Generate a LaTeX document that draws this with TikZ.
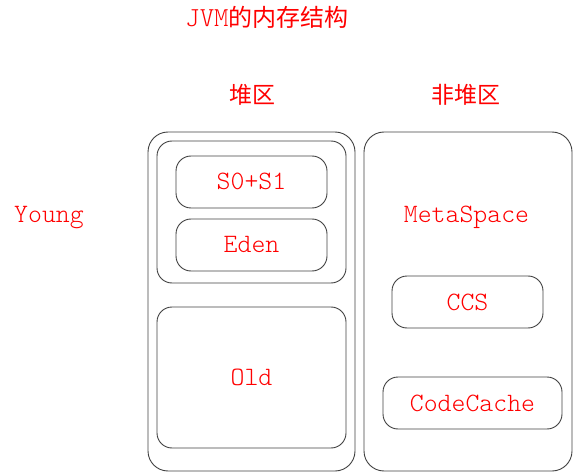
\documentclass[tikz,border=0pt]{standalone}
\usepackage{fontspec}
\setmonofont{Latin Modern Mono Light}
\newfontfamily\cjk{Noto Sans CJK SC}
\newcommand\mytxt{\fontsize{26.5}{30}\selectfont\ttfamily}
\begin{document}
\begin{tikzpicture}[x=1pt,y=-1pt,
  frame/.style={draw=black!75, line width=0.9pt, inner sep=0pt},
  box/.style={frame, rounded corners=15pt, text=red, font=\mytxt, text height=18pt, text depth=2pt},
  bigbox/.style={frame, rounded corners=20pt},
  lbl/.style={text=red, inner sep=0pt, anchor=base, font=\mytxt}]
\useasboundingbox (0,0) rectangle (573,473);
% containers
\node[bigbox, minimum width=207pt, minimum height=339pt] (heap) at (251.5,301.5) {};
\node[bigbox, minimum width=208pt, minimum height=339pt] (nonheap) at (468,301.5) {};
\node[box, minimum width=189pt, minimum height=142pt] (young) at (251.5,212) {};
% inner boxes
\node[box, minimum width=151pt, minimum height=52pt] (s01) at (251.5,182) {S0+S1};
\node[box, minimum width=151pt, minimum height=52pt] (eden) at (251.5,245) {Eden};
\node[box, minimum width=189pt, minimum height=141pt] (old) at (251.5,377.5) {Old};
\node[box, minimum width=151pt, minimum height=52pt] (ccs) at (467.5,302) {CCS};
\node[box, minimum width=179pt, minimum height=52pt] (cc) at (472.5,403) {CodeCache};
% labels
\node[lbl, font=\fontsize{24}{28}\selectfont] (title) at (267,27) {{\fontsize{27.5}{30}\selectfont\ttfamily JVM}{\cjk 的内存结构}};
\node[lbl, font=\fontsize{23}{28}\selectfont\cjk] (heaplbl) at (252,104) {堆区};
\node[lbl, font=\fontsize{23}{28}\selectfont\cjk] (nonheaplbl) at (466,104) {非堆区};
\node[lbl] (younglbl) at (49,223) {Young};
\node[lbl] (meta) at (466.5,223) {MetaSpace};
\end{tikzpicture}
\end{document}
